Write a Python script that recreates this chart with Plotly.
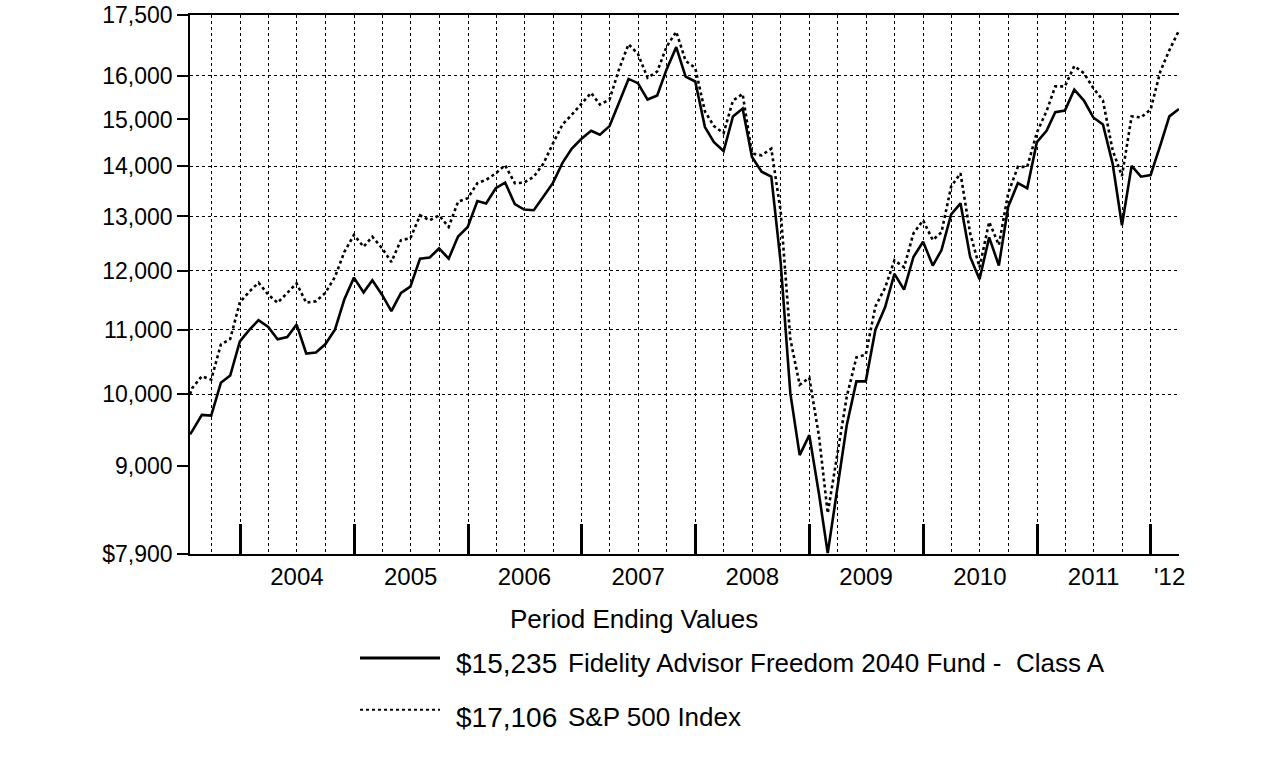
import math
import pandas as pd
import plotly.graph_objects as go

# ---- data -------------------------------------------------------------
dates = [pd.Timestamp("2003-07-24")] + list(pd.date_range("2003-07-31", "2012-03-31", freq="ME"))

fund = [9425,
        9470, 9700, 9690, 10170, 10280, 10810,
        11000, 11155, 11045, 10845, 10880, 11083, 10620, 10635, 10765, 11000, 11500, 11878,
        11622, 11833, 11583, 11305, 11612, 11722, 12216, 12235, 12400, 12216, 12620, 12800,
        13300, 13253, 13553, 13666, 13240, 13134, 13120, 13386, 13654, 14069, 14370, 14578,
        14750, 14666, 14854, 15370, 15925, 15825, 15447, 15540, 16150, 16690, 15977, 15865,
        14833, 14505, 14318, 15068, 15243, 14194, 13886, 13786, 12150, 10016, 9141, 9415,
        8630, 7910, 8719, 9552, 10192, 10192, 11000, 11370, 11945, 11670, 12246, 12524,
        12092, 12370, 13040, 13254, 12246, 11850, 12605, 12093, 13186, 13654, 13554, 14506,
        14750, 15160, 15200, 15675, 15425, 15045, 14889, 14055, 12833, 14007, 13786, 13820,
        14437, 15068, 15235]

sp500 = [10000,
         10090, 10270, 10218, 10760, 10850, 11455,
         11640, 11789, 11583, 11445, 11612, 11778, 11445, 11472, 11612, 11889, 12333, 12650,
         12431, 12616, 12407, 12154, 12555, 12587, 13020, 12926, 13020, 12800, 13286, 13354,
         13654, 13720, 13854, 14021, 13654, 13666, 13786, 14055, 14472, 14889, 15106, 15347,
         15600, 15333, 15447, 16145, 16762, 16526, 15950, 16100, 16700, 17074, 16356, 16185,
         15180, 14854, 14700, 15425, 15575, 14263, 14228, 14368, 13100, 10850, 10140, 10245,
         9400, 8391, 9140, 9963, 10560, 10600, 11384, 11700, 12185, 12061, 12679, 12926,
         12555, 12700, 13586, 13854, 12679, 12061, 12895, 12463, 13454, 13986, 13986, 14715,
         15182, 15750, 15750, 16230, 16060, 15712, 15425, 14333, 13800, 15068, 15045, 15223,
         16100, 16613, 17106]

fund_name = "Fidelity Advisor Freedom 2040 Fund -  Class A"
index_name = "S&P 500 Index"
fund_end = "$15,235"
index_end = "$17,106"
legend_title = "Period Ending Values"

y_tickvals = [7900, 9000, 10000, 11000, 12000, 13000, 14000, 15000, 16000, 17500]
y_ticktext = ["$7,900", "9,000", "10,000", "11,000", "12,000", "13,000", "14,000",
              "15,000", "16,000", "17,500"]
y_gridvals = [10000, 11000, 12000, 13000, 14000, 16000]
y_min, y_max = 7900, 17500

year_starts = [f"{y}-01-01" for y in range(2004, 2013)]
quarter_grid = [d.strftime("%Y-%m-%d") for d in pd.date_range("2003-10-01", "2012-01-01", freq="QS")
                if d.month != 1]
year_label_pos = [f"{y}-07-01" for y in range(2004, 2012)] + ["2012-03-01"]
year_label_txt = [str(y) for y in range(2004, 2012)] + ["'12"]

x_range = ["2003-07-24", "2012-03-31"]

# ---- figure -----------------------------------------------------------
FONT = "Liberation Sans, Arial, sans-serif"
fig = go.Figure()
fig.add_trace(go.Scatter(x=dates, y=fund, mode="lines", name=fund_name,
                         line=dict(color="black", width=2.6), showlegend=False))
fig.add_trace(go.Scatter(x=dates, y=sp500, mode="lines", name=index_name,
                         line=dict(color="black", width=2.6, dash="dot"), showlegend=False))
# invisible trace to activate the label axis
fig.add_trace(go.Scatter(x=[dates[0]], y=[fund[0]], xaxis="x2", mode="lines",
                         line=dict(width=0), showlegend=False, hoverinfo="skip"))

grid_style = dict(showgrid=True, gridcolor="black", gridwidth=1, griddash="dot")

fig.update_layout(
    width=1276, height=761,
    margin=dict(l=190, r=97, t=15, b=207, autoexpand=False),
    paper_bgcolor="white", plot_bgcolor="white",
    font=dict(family=FONT, color="black"),
    xaxis=dict(
        type="date", range=x_range, automargin=False,
        tickmode="array", tickvals=year_starts, showticklabels=False,
        ticks="inside", ticklen=30, tickwidth=2.6, tickcolor="black",
        showline=True, linecolor="black", linewidth=1.5, mirror=True,
        minor=dict(tickmode="array", tickvals=quarter_grid, ticks="", **grid_style),
        zeroline=False, **grid_style,
    ),
    xaxis2=dict(
        type="date", range=x_range, overlaying="x", side="bottom", anchor="y",
        automargin=False, ticklabeloverflow="allow",
        tickmode="array", tickvals=year_label_pos, ticktext=year_label_txt,
        ticks="", showgrid=False, showline=False, zeroline=False,
        ticklabelstandoff=6,
        tickfont=dict(size=24, family=FONT, color="black"),
    ),
    yaxis=dict(
        type="log", range=[math.log10(y_min), math.log10(y_max)], automargin=False,
        ticklabeloverflow="allow",
        tickmode="array", tickvals=y_tickvals, ticktext=y_ticktext,
        ticks="outside", ticklen=11, tickwidth=2.4, tickcolor="black",
        tickfont=dict(size=23, family=FONT, color="black"),
        showline=True, linecolor="black", linewidth=1.5,
        showgrid=False, zeroline=False,
        minor=dict(tickmode="array", tickvals=y_gridvals, ticks="", **grid_style),
    ),
    shapes=[
        dict(type="line", xref="paper", yref="paper", x0=0.1719, x1=0.2528,
             y0=-0.193, y1=-0.193, line=dict(color="black", width=3)),
        dict(type="line", xref="paper", yref="paper", x0=0.1719, x1=0.2528,
             y0=-0.289, y1=-0.289, line=dict(color="black", width=2.2, dash="dot")),
    ],
    annotations=[
        dict(text=legend_title, xref="paper", yref="paper", x=0.449, y=-0.121,
             xanchor="center", yanchor="middle", showarrow=False,
             font=dict(size=26, family=FONT, color="black")),
        dict(text=fund_end, xref="paper", yref="paper", x=0.2665, y=-0.2025,
             xanchor="left", yanchor="middle", showarrow=False,
             font=dict(size=28, family=FONT, color="black")),
        dict(text=fund_name, xref="paper", yref="paper", x=0.3805, y=-0.2025,
             xanchor="left", yanchor="middle", showarrow=False,
             font=dict(size=26, family=FONT, color="black")),
        dict(text=index_end, xref="paper", yref="paper", x=0.2665, y=-0.3025,
             xanchor="left", yanchor="middle", showarrow=False,
             font=dict(size=28, family=FONT, color="black")),
        dict(text=index_name, xref="paper", yref="paper", x=0.3805, y=-0.3025,
             xanchor="left", yanchor="middle", showarrow=False,
             font=dict(size=26, family=FONT, color="black")),
    ],
)

fig.write_html("out.html", config={"displayModeBar": False},
               post_script="document.body.style.margin='0';")
